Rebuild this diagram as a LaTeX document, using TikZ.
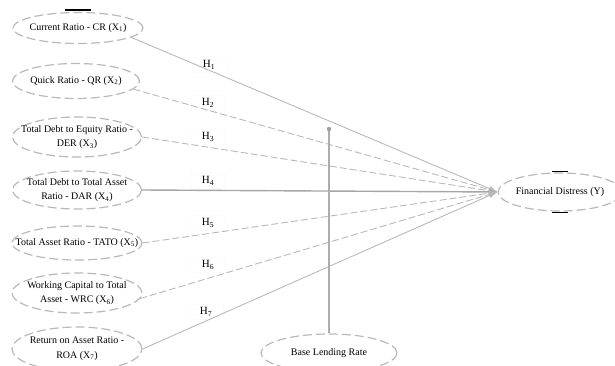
\documentclass[tikz,border=0pt]{standalone}
\usepackage{fontspec}
\setmainfont{Liberation Serif}
\usetikzlibrary{arrows.meta,shapes.geometric}

\begin{document}
\begin{tikzpicture}[x=1pt,y=-1pt,
    var/.style={ellipse, draw=gray!55, line width=1.2pt, dash pattern=on 9pt off 4pt, inner sep=0pt},
    vartxt/.style={font=\fontsize{10}{14.5}\selectfont, align=center, inner sep=0pt},
    hlab/.style={fill=white, draw=gray!3, inner sep=1pt, minimum width=34, minimum height=15, font=\fontsize{11}{11}\selectfont},
    hyp/.style={gray!55, line width=0.9pt, -{Latex[length=3mm,width=2mm]}},
    hypd/.style={hyp, dash pattern=on 7pt off 3pt},
    hypmain/.style={gray!70, line width=1.4pt, -{Latex[length=3mm,width=2mm]}},
    modline/.style={gray!65, line width=1.5pt},
    blackdash/.style={black, line width=1.3pt}
  ]
  \useasboundingbox (0,0) rectangle (615,366);

  % Variablen X1 bis X7
  \node[var, minimum width=130, minimum height=31] (X1) at (78,28) {};
  \node[var, minimum width=127, minimum height=35] (X2) at (76,81) {};
  \node[var, minimum width=129, minimum height=40] (X3) at (77,137) {};
  \node[var, minimum width=129, minimum height=38] (X4) at (77,190) {};
  \node[var, minimum width=130, minimum height=34] (X5) at (77,243) {};
  \node[var, minimum width=130, minimum height=40] (X6) at (77,293) {};
  \node[var, minimum width=130, minimum height=44] (X7) at (77,349) {};
  \node[vartxt] (X1t) at (X1) {Current Ratio - CR (X\textsubscript{1})};
  \node[vartxt] (X2t) at (X2) {Quick Ratio - QR (X\textsubscript{2})};
  \node[vartxt] (X3t) at (X3) {Total Debt to Equity Ratio -\\DER (X\textsubscript{3})};
  \node[vartxt] (X4t) at (X4) {Total Debt to Total Asset\\Ratio - DAR (X\textsubscript{4})};
  \node[vartxt] (X5t) at (X5) {Total Asset Ratio - TATO (X\textsubscript{5})};
  \node[vartxt] (X6t) at (X6) {Working Capital to Total\\Asset - WRC (X\textsubscript{6})};
  \node[vartxt] (X7t) at (X7) {Return on Asset Ratio -\\ROA (X\textsubscript{7})};

  % abhaengige Variable und Moderator
  \node[var, minimum width=124, minimum height=38] (Y) at (560,192) {};
  \node[vartxt] (Yt) at (Y) {Financial Distress (Y)};
  \node[var, minimum width=136, minimum height=38] (B) at (329,353) {};
  \node[vartxt] (Bt) at (B) {Base Lending Rate};

  % Hypothesen
  \node[hlab] (h1) at (209,65) {H\textsubscript{1}};
  \node[hlab] (h2) at (208,103) {H\textsubscript{2}};
  \node[hlab] (h3) at (208,137) {H\textsubscript{3}};
  \node[hlab] (h4) at (208,181) {H\textsubscript{4}};
  \node[hlab] (h5) at (208,223) {H\textsubscript{5}};
  \node[hlab] (h6) at (208,265) {H\textsubscript{6}};
  \node[hlab] (h7) at (206,312) {H\textsubscript{7}};

  % Pfade
  \draw[hyp] (X1.-10) -- (Y.west);
  \draw[hypd] (X2.-8) -- (Y.west);
  \draw[hypd] (X3.east) -- (Y.west);
  \draw[hypmain] (X4.east) -- (Y.west);
  \draw[hypd] (X5.east) -- (Y.west);
  \draw[hypd] (X6.-5) -- (Y.west);
  \draw[hyp] (X7.east) -- (Y.west);

  % Moderation
  \coordinate (mod) at (329,129);
  \draw[modline] (B) -- (mod);
  \fill[gray!75] (mod) circle (2.2);

  % schwarze Striche
  \draw[blackdash] ([xshift=-13pt,yshift=2pt]X1.north) -- ++(26,0);
  \draw[blackdash] ([xshift=-8pt,yshift=1pt]Y.north) -- ++(16,0);
  \draw[blackdash] ([xshift=-8pt,yshift=-1pt]Y.south) -- ++(16,0);
\end{tikzpicture}
\end{document}
